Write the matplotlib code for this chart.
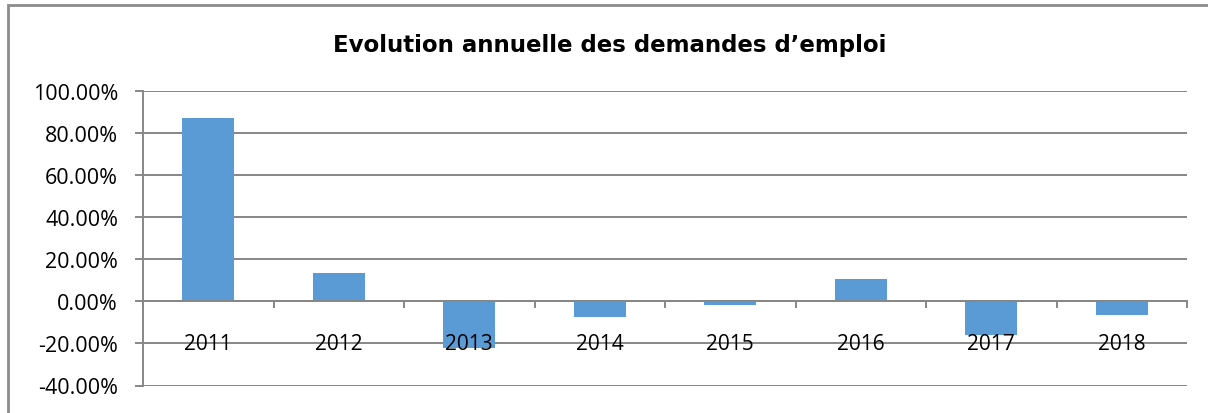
import matplotlib
matplotlib.use("Agg")
import matplotlib.pyplot as plt
from matplotlib.ticker import FuncFormatter, FixedLocator
from matplotlib.patches import Rectangle

years = ["2011", "2012", "2013", "2014", "2015", "2016", "2017", "2018"]
values = [87.2, 13.5, -22.3, -7.3, -1.6, 10.6, -15.9, -6.4]
title = "Evolution annuelle des demandes d\u2019emploi"

plt.rcParams["font.family"] = ["Open Sans", "DejaVu Sans"]

W, H = 1208, 414
fig = plt.figure(figsize=(W / 100, H / 100), dpi=100)
fig.patch.set_facecolor("white")

# chart frame (extends beyond the right and bottom edges)
fig.patches.append(Rectangle((8 / W, -0.1), 1.2, 1 - 6 / H + 0.1, transform=fig.transFigure,
                             fill=False, edgecolor="#8c8c8c", linewidth=2.0))

ax = fig.add_axes([143 / W, (H - 386.5) / H, (1187 - 143) / W, (386.5 - 92) / H])
grey = "#878787"
x = list(range(len(years)))
ax.bar(x, values, width=0.4, color="#5B9BD5", zorder=3)

ax.set_xlim(-0.5, len(years) - 0.5)
ax.set_ylim(-40, 100)
ax.set_yticks(range(-40, 101, 20))
ax.yaxis.set_major_formatter(FuncFormatter(lambda v, p: f"{v:.2f}%"))
ax.grid(axis="y", color=grey, linewidth=1.4)
ax.yaxis.set_zorder(0.5)
ax.xaxis.set_zorder(5)

for s in ["top", "right"]:
    ax.spines[s].set_visible(False)
ax.spines["left"].set_color(grey)
ax.spines["left"].set_linewidth(1.4)
ax.spines["left"].set_zorder(0.6)
ax.spines["bottom"].set_position(("data", 0))
ax.spines["bottom"].set_color(grey)
ax.spines["bottom"].set_linewidth(1.4)
ax.spines["bottom"].set_zorder(4)

ax.xaxis.set_major_locator(FixedLocator([i - 0.5 for i in range(len(years) + 1)]))
ax.xaxis.set_minor_locator(FixedLocator(x))
ax.set_xticklabels([], minor=False)
ax.set_xticklabels(years, minor=True)
ax.tick_params(axis="x", which="major", length=5, width=1.4, color=grey, direction="out")
ax.tick_params(axis="x", which="minor", length=0, pad=23, labelsize=15, labelcolor="black")
ax.tick_params(axis="y", length=6, width=1.4, color=grey, pad=12, labelsize=15.5)

t = fig.text(610 / W, 1 - 52 / H, title, ha="center", va="baseline",
             fontsize=17, fontweight="bold", family="DejaVu Sans")
fig.canvas.draw()
ext = t.get_window_extent()
t.set_fontsize(17 * 555 / ext.width)

fig.savefig("out.png", dpi=100, facecolor="white")
